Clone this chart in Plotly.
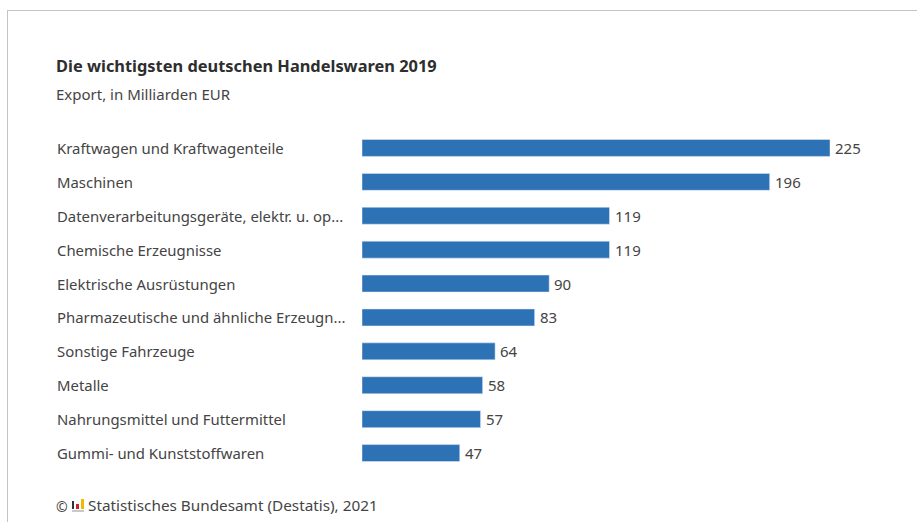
import plotly.graph_objects as go

categories = ["Kraftwagen und Kraftwagenteile", "Maschinen", "Datenverarbeitungsgeräte, elektr. u. op...",
              "Chemische Erzeugnisse", "Elektrische Ausrüstungen", "Pharmazeutische und ähnliche Erzeugn...",
              "Sonstige Fahrzeuge", "Metalle", "Nahrungsmittel und Futtermittel", "Gummi- und Kunststoffwaren"]
values = [225, 196, 119, 119, 90, 83, 64, 58, 57, 47]

W, H = 917, 522
L, R, T, B = 362, 35, 131, 52
FONT = "Noto Sans"
TXT = "#444444"
PW = W - L - R

def px(x):
    return (x - L) / PW

def py(y):
    return 1 - (y - T) / (H - T - B)

fig = go.Figure(go.Bar(
    x=values, y=categories, orientation="h",
    marker=dict(color="#2e72b6"), width=0.5,
))

annotations = [dict(text=c, x=px(55), y=c, xref="paper", yref="y", xanchor="left", yanchor="middle",
                    showarrow=False, font=dict(family=FONT, size=14.9, color=TXT)) for c in categories]
annotations += [dict(text=str(v), x=v, y=c, xref="x", yref="y", xanchor="left", yanchor="middle", xshift=3,
                     showarrow=False, font=dict(family=FONT, size=15, color=TXT)) for c, v in zip(categories, values)]
annotations += [
    dict(text="<b>Die wichtigsten deutschen Handelswaren 2019</b>", x=px(54), y=py(65.5), xref="paper", yref="paper",
         xanchor="left", yanchor="middle", showarrow=False, font=dict(family=FONT, size=16.4, color="#2e2e2e")),
    dict(text="Export, in Milliarden EUR", x=px(54), y=py(94), xref="paper", yref="paper",
         xanchor="left", yanchor="middle", showarrow=False, font=dict(family=FONT, size=15, color=TXT)),
    dict(text="©", x=px(54), y=py(506), xref="paper", yref="paper",
         xanchor="left", yanchor="middle", showarrow=False, font=dict(family=FONT, size=14, color=TXT)),
    dict(text="Statistisches Bundesamt (Destatis), 2021", x=px(86), y=py(505), xref="paper", yref="paper",
         xanchor="left", yanchor="middle", showarrow=False, font=dict(family=FONT, size=15.3, color=TXT)),
]

def rect(x0, y0, x1, y1, color):
    return dict(type="rect", xref="paper", yref="paper", x0=px(x0), x1=px(x1), y0=py(y0), y1=py(y1),
                line=dict(width=0), fillcolor=color, layer="above")

shapes = [
    rect(7, 10, 8, H, "#c4c4c4"),
    rect(7, 10, W, 11, "#c4c4c4"),
    rect(72, 501, 74, 509, "#333333"),
    rect(76, 504, 79, 509, "#d2202a"),
    rect(81, 499, 84, 509, "#f2b800"),
    rect(72, 510, 84, 512, "#c8c8c8"),
]

fig.update_layout(
    width=W, height=H, autosize=False, showlegend=False,
    margin=dict(l=L, r=R, t=T, b=B),
    paper_bgcolor="white", plot_bgcolor="white",
    xaxis=dict(range=[0, PW / (468 / 225)], visible=False, fixedrange=True),
    yaxis=dict(autorange="reversed", showticklabels=False, showgrid=False, zeroline=False, ticks="", showline=False),
    annotations=annotations, shapes=shapes,
)
fig.write_html("out.html", config={"displayModeBar": False},
               post_script="document.body.style.margin='0';document.body.style.overflow='hidden';")
